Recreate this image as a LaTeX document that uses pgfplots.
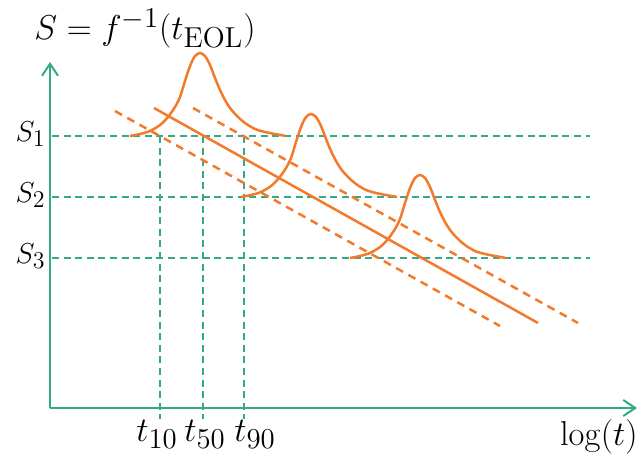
\documentclass[border=0pt]{standalone}
\usepackage{pgfplots}
\pgfplotsset{compat=1.18}
\usetikzlibrary{arrows.meta}
\DeclareMathSizes{14.4}{14.4}{11.5}{9}
\DeclareMathSizes{17.28}{17.28}{13.8}{10}
\definecolor{teal1}{RGB}{52,169,136}
\definecolor{orng}{RGB}{242,122,42}
\begin{document}
\begin{tikzpicture}
\begin{axis}[
  width=320.5pt, height=228pt, scale only axis,
  xmin=0, xmax=641, ymin=0, ymax=456,
  hide axis, clip=false,
]
\path (axis cs:0,0) rectangle (axis cs:641,456);
% axes
\addplot[teal1, line width=1pt, -{Straight Barb[length=6pt,width=8pt]}] coordinates {(50,48) (50,394)};
\addplot[teal1, line width=1pt, -{Straight Barb[length=6pt,width=8pt]}] coordinates {(50,48) (637,48)};
% horizontal dashed levels
\addplot[teal1, line width=1pt, dash pattern=on 3.5pt off 2.3pt] coordinates {(52,320) (590,320)};
\addplot[teal1, line width=1pt, dash pattern=on 3.5pt off 2.3pt] coordinates {(52,259) (590,259)};
\addplot[teal1, line width=1pt, dash pattern=on 3.5pt off 2.3pt] coordinates {(52,198) (590,198)};
% vertical dashed
\addplot[teal1, line width=1pt, dash pattern=on 3.5pt off 2.3pt] coordinates {(160,320) (160,37)};
\addplot[teal1, line width=1pt, dash pattern=on 3.5pt off 2.3pt] coordinates {(203,320) (203,37)};
\addplot[teal1, line width=1pt, dash pattern=on 3.5pt off 2.3pt] coordinates {(244,320) (244,37)};
% orange lines
\addplot[orng, line width=1.25pt, dash pattern=on 4pt off 3pt] coordinates {(115,345) (500,130)};
\addplot[orng, line width=1.25pt] coordinates {(154,348) (538,133)};
\addplot[orng, line width=1.25pt, dash pattern=on 4pt off 3pt] coordinates {(193,348) (578,133)};
% distributions
\addplot[orng, line width=1.25pt, smooth] coordinates {(130,320)(140,322)(150,325)(160,331)(168,339)(175,349)(180,359)(185,375)(190,390)(195,400)(200,403)(205,400)(210,391)(215,378)(220,366)(225,356)(230,348)(237,340)(245,333)(255,327)(265,324)(275,322)(286,320)};
\addplot[orng, line width=1.25pt, smooth] coordinates {(241,259)(251,261)(261,264)(271,270)(279,278)(286,288)(291,298)(296,314)(301,329)(306,339)(311,342)(316,339)(321,330)(326,317)(331,305)(336,295)(341,287)(348,279)(356,272)(366,266)(376,263)(386,261)(397,259)};
\addplot[orng, line width=1.25pt, smooth] coordinates {(350,198)(360,200)(370,203)(380,209)(388,217)(395,227)(400,237)(405,253)(410,268)(415,278)(420,281)(425,278)(430,269)(435,256)(440,244)(445,234)(450,226)(457,218)(465,211)(475,205)(485,202)(495,200)(506,198)};
% labels
\node[anchor=base west, inner sep=0pt, font=\LARGE] at (axis cs:34,416) {$S = f^{-1}(t_{\mathrm{EOL}})$};
\node[anchor=east, inner sep=0pt, font=\Large] at (axis cs:46,322) {$S_1$};
\node[anchor=east, inner sep=0pt, font=\Large] at (axis cs:46,261) {$S_2$};
\node[anchor=east, inner sep=0pt, font=\Large] at (axis cs:46,200) {$S_3$};
\node[anchor=north, inner sep=0pt, font=\LARGE] at (axis cs:157,36) {$t_{10}$};
\node[anchor=north, inner sep=0pt, font=\LARGE] at (axis cs:205,36) {$t_{50}$};
\node[anchor=north, inner sep=0pt, font=\LARGE] at (axis cs:255,36) {$t_{90}$};
\node[anchor=north east, inner sep=0pt, font=\LARGE] at (axis cs:638,37) {$\log(t)$};
\end{axis}
\end{tikzpicture}
\end{document}
